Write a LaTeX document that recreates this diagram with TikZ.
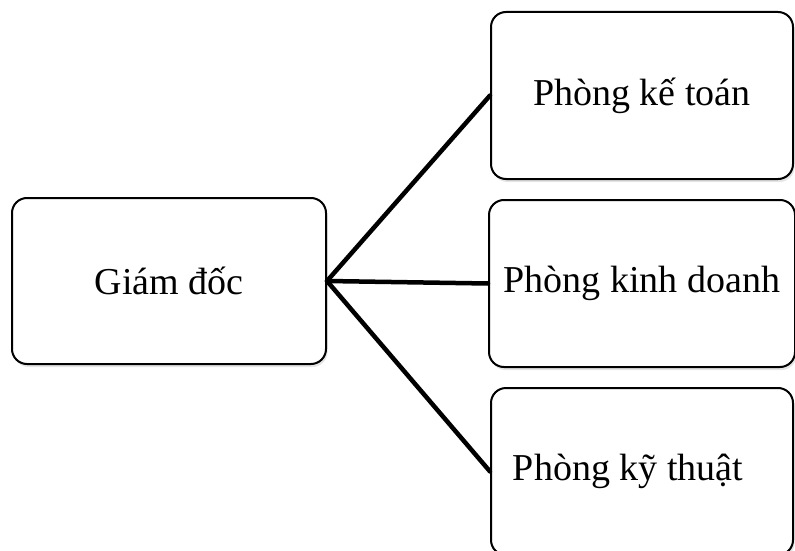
\documentclass[tikz,border=0pt]{standalone}
\usepackage{fontspec}
\setmainfont{Liberation Serif}
\usetikzlibrary{shadows}
\tikzset{hop/.style={draw,line width=2pt,rounded corners=15pt,fill=white,
        drop shadow={shadow xshift=1.5pt,shadow yshift=-3pt,opacity=0.2},
        font=\fontsize{38}{40}\selectfont,inner sep=0pt}}
\begin{document}
\begin{tikzpicture}[x=1pt,y=-1pt]
        \clip (0,0) rectangle (795,551);
        \fill[white] (0,0) rectangle (795,551);
        \node[hop,minimum width=314pt,minimum height=166pt] (gd) at (169,281) {Giám đốc};
        \node[hop,minimum width=302pt,minimum height=167pt] (kt) at (642,95.5) {Phòng kế toán};
        \node[hop,minimum width=306pt,minimum height=167pt] (kd) at (642,283.5) {Phòng kinh doanh};
        \node[hop,minimum width=302pt,minimum height=167pt] (kth) at (642,471.5) {Phòng kỹ thuật\hspace*{28pt}};
        \draw[line width=4.5pt,line cap=round] (gd.east)--(kt.west);
        \draw[line width=4.5pt,line cap=round] (gd.east)--(kd.west);
        \draw[line width=4.5pt,line cap=round] (gd.east)--(kth.west);
        \end{tikzpicture}
\end{document}
